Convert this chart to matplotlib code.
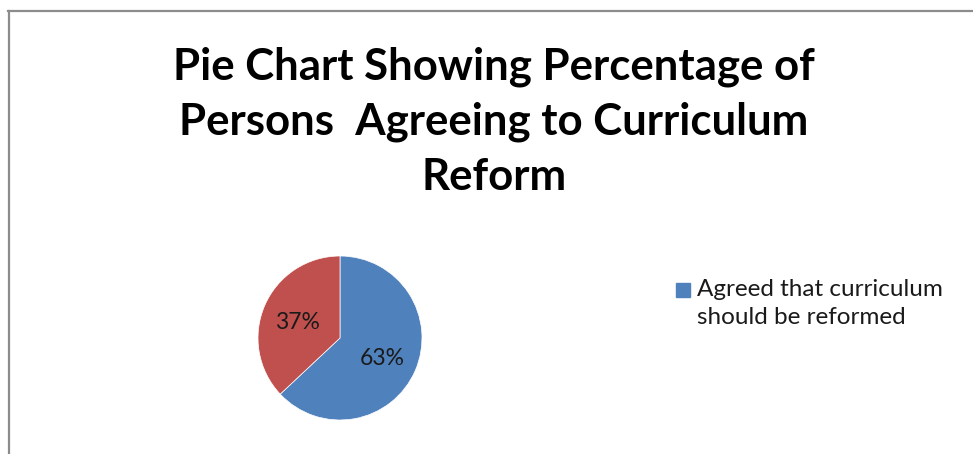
import matplotlib
matplotlib.use("Agg")
import matplotlib.pyplot as plt
import numpy as np
from matplotlib.lines import Line2D
from matplotlib.patches import Rectangle

title = "Pie Chart Showing Percentage of\nPersons  Agreeing to Curriculum\nReform"
shares = [63, 37]
legend_label = "Agreed that curriculum\nshould be reformed"
colors = ["#4F81BD", "#C0504D"]

plt.rcParams["font.family"] = ["Lato", "DejaVu Sans"]

W, H = 973, 454
fig = plt.figure(figsize=(W / 100, H / 100), dpi=100)

# cadre gris (gauche + haut)
fig.add_artist(Line2D([8.5 / W, 8.5 / W], [0, 1 - 11 / H], color="#8c8c8c", lw=1.6,
                      transform=fig.transFigure))
fig.add_artist(Line2D([8 / W, 1], [1 - 11 / H, 1 - 11 / H], color="#8c8c8c", lw=1.6,
                      transform=fig.transFigure))

fig.text(494 / W, 1 - 122 / H, title, ha="center", va="center", fontsize=31.5,
         fontweight="bold", linespacing=1.45)

# camembert
ax = fig.add_axes([258 / W, 34 / H, 164 / W, 164 / H])
wedges, _ = ax.pie(shares, colors=colors, startangle=90, counterclock=False,
                   wedgeprops=dict(edgecolor="white", linewidth=0.5))
for w, pct in zip(wedges, shares):
    mid = np.deg2rad((w.theta1 + w.theta2) / 2)
    ax.text(0.56 * np.cos(mid), 0.56 * np.sin(mid) - 0.03, f"{pct}%", ha="center",
            va="center", fontsize=16.5, color="#1a1a1a")
ax.set_xlim(-1, 1)
ax.set_ylim(-1, 1)
ax.set_aspect("equal")

# légende (seulement la première part)
fig.add_artist(Rectangle((676 / W, 1 - 297 / H), 14 / W, 14 / H, color=colors[0],
                         transform=fig.transFigure))
fig.text(697 / W, 1 - 279 / H, legend_label, ha="left", va="top", fontsize=17.5,
         color="#1a1a1a", linespacing=1.4)

fig.savefig("out.png", dpi=100, facecolor="white")
